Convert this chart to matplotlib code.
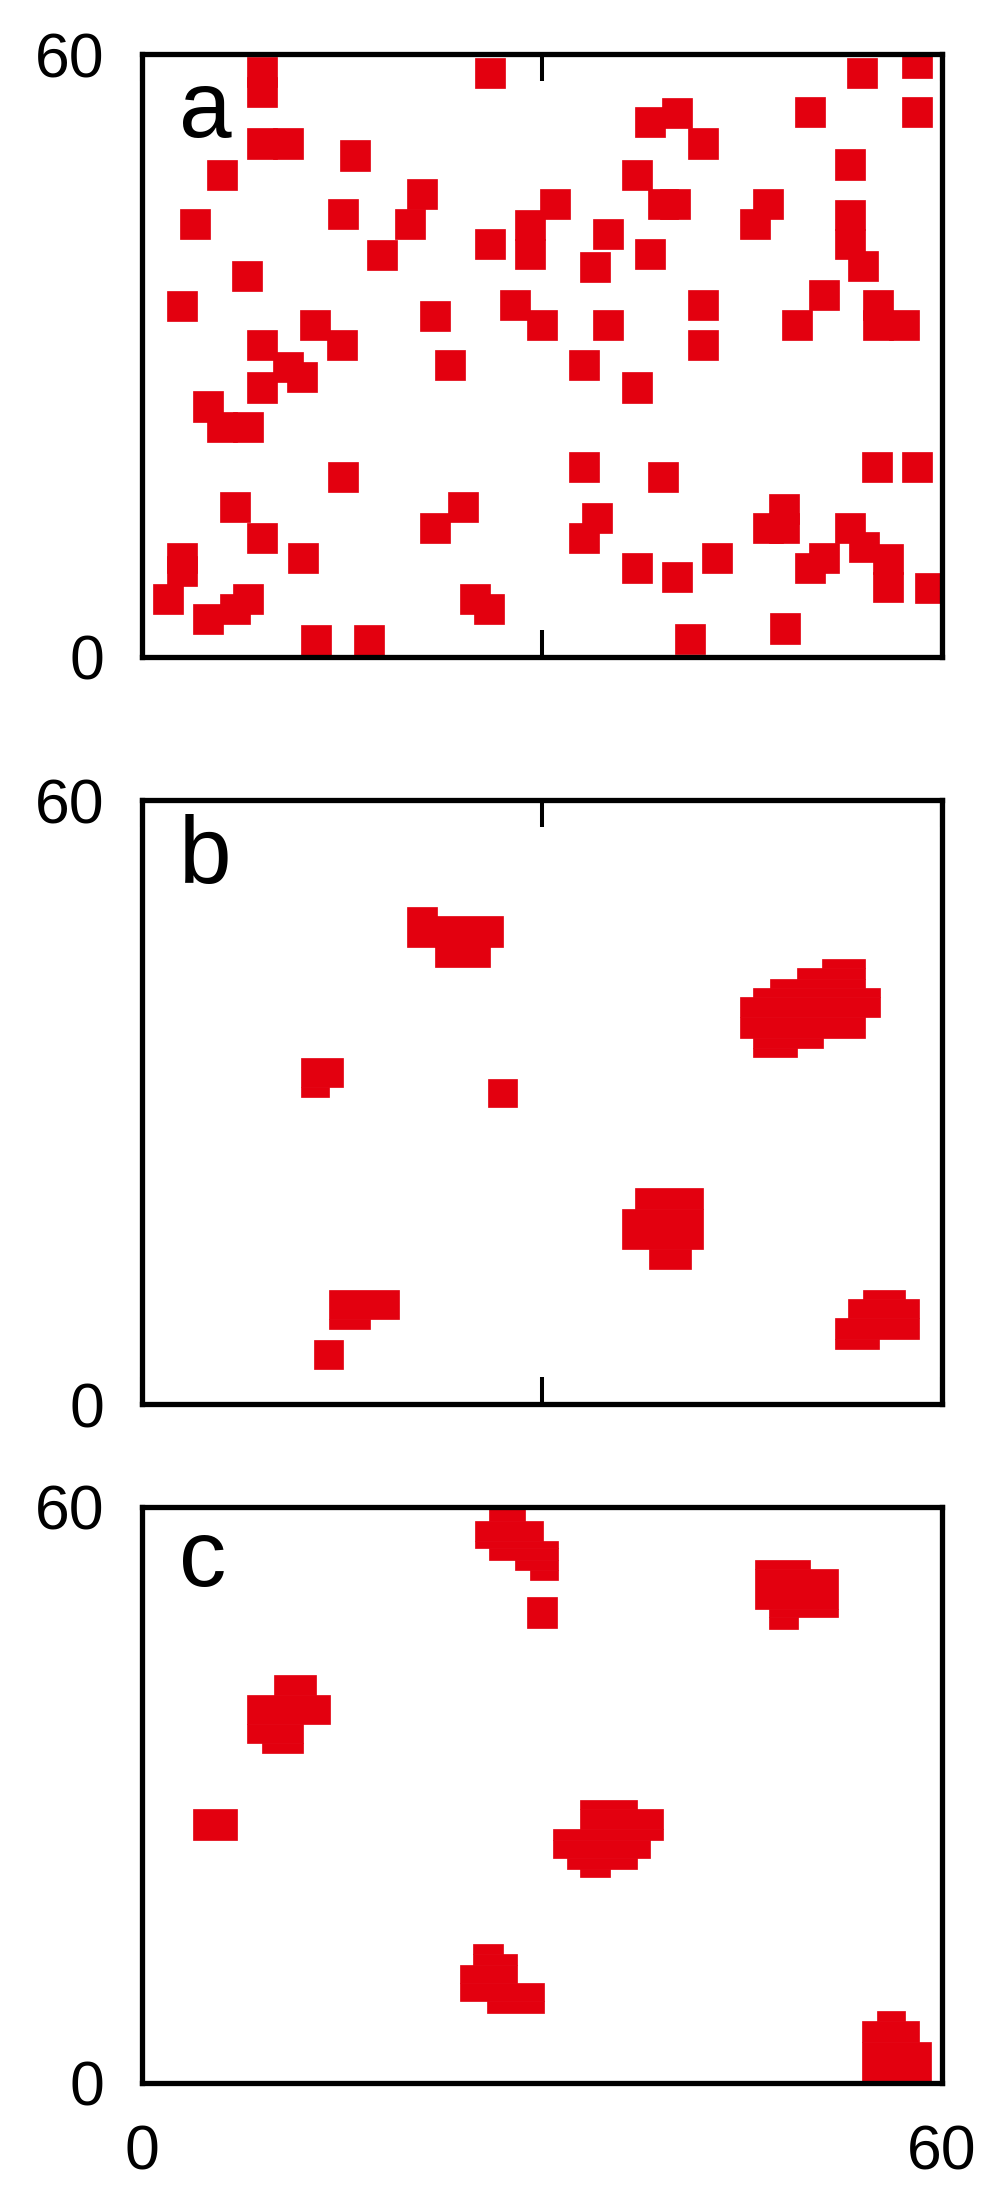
import numpy as np
import matplotlib
matplotlib.use('Agg')
import matplotlib.pyplot as plt

plt.rcParams['font.family'] = ['Liberation Sans', 'DejaVu Sans']

RED = '#e3000f'

# panel a: lower-left corners of the single particles
a_x = [7.85, 7.85, 7.85, 9.85, 14.85, 4.85, 2.85, 13.97, 19.85, 18.97, 16.85, 24.97,
       24.97, 29.85, 27.97, 27.97, 20.85, 6.72, 1.85, 11.85, 13.85, 7.85, 26.85, 28.85,
       21.97,
       52.85, 56.97, 56.97, 48.97, 36.97, 38.97, 40.97, 51.97, 36.0, 37.97, 38.85, 33.85,
       32.85, 36.97, 45.85, 44.85, 51.97, 51.97, 52.97, 50.0, 47.97, 54.1, 54.1, 56.0,
       40.97, 40.97, 33.85,
       9.85, 10.85, 7.85, 3.85, 4.85, 6.85, 13.97, 5.85, 7.85, 10.97, 22.97, 20.85,
       1.85, 1.85, 0.85, 3.85, 5.85, 6.85, 11.9, 15.9, 23.85, 24.9,
       32.0, 35.97, 32.0, 37.97, 54.0, 57.0, 33.0, 32.0, 35.97, 38.97, 42.0, 47.0,
       47.0, 45.85, 57.97, 51.97, 53.0, 54.85, 54.85, 50.0, 48.97, 47.1, 40.0]
a_y = [56.7, 54.75, 49.6, 49.6, 48.4, 46.5, 41.6, 42.6, 44.6, 41.6, 38.5, 39.6,
       56.6, 43.6, 41.5, 38.6, 32.4, 36.4, 33.4, 31.5, 29.5, 29.5, 33.5, 31.5,
       27.5,
       56.6, 57.6, 52.7, 52.7, 51.7, 52.6, 49.6, 47.5, 46.5, 43.6, 43.6, 40.6,
       37.3, 38.6, 43.6, 41.6, 42.5, 39.6, 37.4, 34.5, 31.5, 33.5, 31.5, 31.5,
       33.5, 29.5, 31.5,
       27.3, 26.3, 25.3, 23.4, 21.4, 21.4, 16.4, 13.4, 10.3, 8.3, 13.4, 11.3,
       8.3, 7.0, 4.25, 2.26, 3.26, 4.25, 0.1, 0.1, 4.25, 3.2,
       27.5, 25.3, 17.4, 16.4, 17.4, 17.4, 12.3, 10.3, 7.3, 6.4, 8.3, 13.2,
       11.3, 11.3, 5.3, 11.3, 9.4, 8.2, 5.4, 8.3, 7.3, 1.3, 0.27]
a_w = 2.25
a_h = 3.0

# panel b: clusters as horizontal strips (x0, x1, y0, y1)
b_x0 = [19.9, 22.0, 22.0, 11.95, 11.95, 25.95, 14.0, 14.0, 12.9,
        51.0, 49.1, 47.1, 45.85, 44.85, 44.85, 45.85, 45.85,
        37.0, 36.0, 38.0,
        54.1, 52.95, 51.95, 51.95]
b_x1 = [22.1, 27.1, 26.1, 15.1, 14.05, 28.1, 19.25, 17.1, 15.1,
        54.2, 54.2, 54.2, 55.35, 55.35, 54.2, 51.1, 49.1,
        42.1, 42.1, 41.15,
        57.2, 58.3, 58.3, 55.3]
b_y0 = [45.4, 45.4, 43.4, 31.5, 30.5, 29.5, 8.5, 7.5, 3.5,
        43.33, 42.23, 41.29, 40.48, 38.45, 36.41, 35.4, 34.46,
        19.4, 15.46, 13.43,
        10.46, 8.54, 6.51, 5.49]
b_y1 = [49.4, 48.5, 45.5, 34.4, 31.5, 32.3, 11.4, 8.5, 6.4,
        44.26, 43.33, 42.23, 41.29, 40.48, 38.45, 36.41, 35.4,
        21.44, 19.4, 15.46,
        11.39, 10.46, 8.54, 6.51]

# panel c
c_x0 = [26.0, 25.0, 25.0, 26.0, 28.0, 29.1, 28.85,
        9.9, 7.85, 7.85, 8.98, 3.8,
        24.85, 24.85, 23.85, 23.85, 25.85,
        32.85, 32.85, 30.85, 30.85, 31.85, 32.85,
        45.98, 45.98, 47.05, 47.05,
        55.1, 54.0, 54.0]
c_x1 = [28.7, 30.1, 31.2, 31.2, 31.2, 31.2, 31.1,
        13.05, 14.1, 12.1, 12.1, 7.15,
        27.1, 28.1, 28.1, 30.15, 30.15,
        37.1, 39.1, 39.1, 38.1, 37.1, 35.1,
        50.1, 52.2, 52.2, 49.2,
        57.2, 58.3, 59.2]
c_y0 = [58.5, 56.4, 55.7, 54.5, 53.4, 52.4, 47.4,
        40.4, 37.4, 35.4, 34.4, 25.3,
        13.4, 12.3, 10.4, 8.5, 7.3,
        28.5, 26.5, 25.3, 23.4, 22.3, 21.5,
        53.5, 49.4, 48.5, 47.3,
        6.4, 4.3, 0.0]
c_y1 = [60.0, 58.5, 56.4, 55.7, 54.5, 53.4, 50.6,
        42.5, 40.4, 37.4, 35.4, 28.5,
        14.5, 13.4, 12.3, 10.4, 8.5,
        29.5, 28.5, 26.5, 25.3, 23.4, 22.3,
        54.5, 53.5, 49.4, 48.5,
        7.5, 6.4, 4.3]

fig = plt.figure(figsize=(10.05, 21.9), dpi=100)
ax_a = fig.add_axes([0.1413, 0.7002, 0.796, 0.2751])
ax_b = fig.add_axes([0.1413, 0.3587, 0.796, 0.2760])
ax_c = fig.add_axes([0.1413, 0.0489, 0.796, 0.2630])

ax_a.bar(a_x, [a_h] * len(a_x), width=a_w, bottom=a_y, align='edge',
         color=RED, edgecolor=RED, linewidth=0.5)
for ax, x0, x1, y0, y1 in [(ax_b, b_x0, b_x1, b_y0, b_y1),
                           (ax_c, c_x0, c_x1, c_y0, c_y1)]:
    x0 = np.array(x0)
    y0 = np.array(y0)
    ax.bar(x0, np.array(y1) - y0, width=np.array(x1) - x0, bottom=y0,
           align='edge', color=RED, edgecolor=RED, linewidth=0.5)

for ax, lab in [(ax_a, 'a'), (ax_b, 'b'), (ax_c, 'c')]:
    ax.set_xlim(0, 60)
    ax.set_ylim(0, 60)
    for s in ax.spines.values():
        s.set_linewidth(3.8)
        s.set_zorder(5)
    ax.set_yticks([0, 60])
    ax.set_yticklabels(['0', '60'])
    ax.tick_params(axis='y', length=0, pad=27, labelsize=45)
    ax.text(0.046, 0.863, lab, transform=ax.transAxes, fontsize=68,
            ha='left', va='baseline')

for ax in (ax_a, ax_b):
    ax.set_xticks([0, 30, 60])
    ax.tick_params(axis='x', direction='in', top=True, bottom=True,
                   length=19.5, width=2.9, labelbottom=False)

ax_c.set_xticks([0, 60])
ax_c.set_xticklabels(['0', '60'])
ax_c.tick_params(axis='x', length=0, pad=29, labelsize=45)

fig.savefig('out.png', dpi=100)
